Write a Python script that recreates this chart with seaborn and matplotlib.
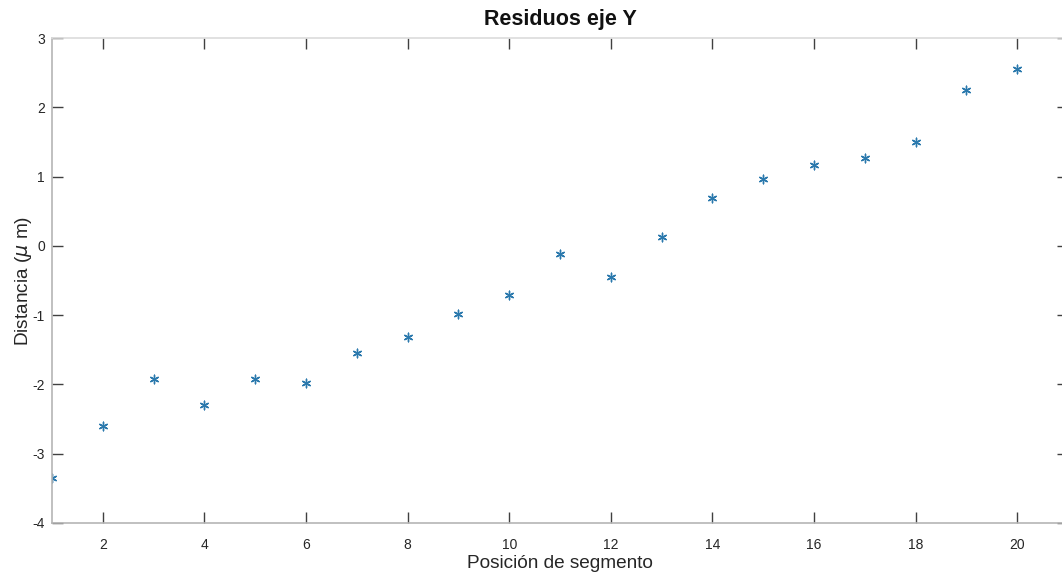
import matplotlib
matplotlib.use("Agg")
import matplotlib.pyplot as plt
import seaborn as sns
import pandas as pd

segment = list(range(1, 21))
residual = [-3.35, -2.60, -1.92, -2.29, -1.92, -1.98, -1.54, -1.31, -0.98, -0.71,
            -0.12, -0.45, 0.13, 0.69, 0.97, 1.17, 1.27, 1.50, 2.25, 2.55]
xticks = [2, 4, 6, 8, 10, 12, 14, 16, 18, 20]
yticks = [-4, -3, -2, -1, 0, 1, 2, 3]

sns.set_style("white")
plt.rcParams['font.family'] = ['Liberation Sans', 'DejaVu Sans']
plt.rcParams['axes.unicode_minus'] = False

df = pd.DataFrame({"x": segment, "y": residual})

fig = plt.figure(figsize=(10.62, 5.72), dpi=100)
ax = fig.add_axes([52/1062, 1 - 523/572, (1068 - 52)/1062, (523 - 38)/572])

sns.scatterplot(data=df, x="x", y="y", ax=ax, marker=(6, 2, 0), s=38,
                color="#2b79ad", linewidth=1.0, legend=False)

ax.set_xlim(1, 21)
ax.set_ylim(-4, 3)
ax.set_xticks(xticks)
ax.set_yticks(yticks)
ax.tick_params(direction="in", length=8, width=1.0, color="#404040",
               labelsize=10, labelcolor="#262626", top=True, right=True,
               bottom=True, left=True)
ax.tick_params(axis="x", pad=11)
ax.tick_params(axis="y", pad=5)
for side, sp in ax.spines.items():
    sp.set_visible(True)
    sp.set_linewidth(1.2)
    sp.set_color("#b5b5b5" if side in ("left", "bottom") else "#dcdcdc")

ax.set_xlabel("Posición de segmento", fontsize=13.7, color="#262626", labelpad=2)
ax.set_ylabel("Distancia ($\\mu$ m)", fontsize=13.7, color="#262626", labelpad=-1)
ax.set_title("Residuos eje Y", fontsize=15.5, fontweight="bold", color="#111111", pad=9)

fig.savefig("out.png", dpi=100)
